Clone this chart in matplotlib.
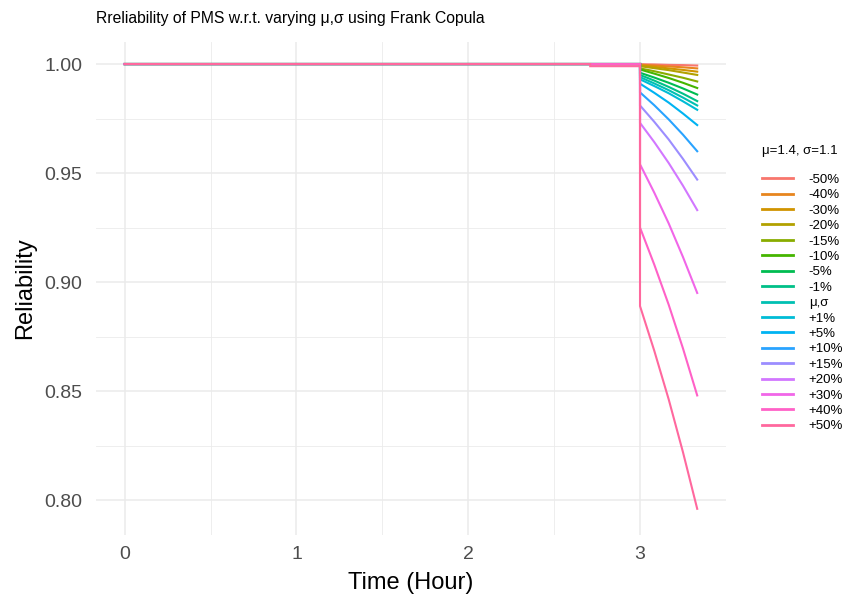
import numpy as np
import matplotlib
matplotlib.use('Agg')
import matplotlib.pyplot as plt
from matplotlib.ticker import MultipleLocator, FormatStrFormatter

plt.rcParams['font.family'] = ['Liberation Sans', 'DejaVu Sans']

# series labels, in drawing order (last one ends up on top)
labels = ['-50%', '-40%', '-30%', '-20%', '-15%', '-10%', '-5%', '-1%', 'μ,σ',
          '+1%', '+5%', '+10%', '+15%', '+20%', '+30%', '+40%', '+50%']

# common time grid (hours); the repeated 3.0 makes the vertical drop
times = [0, 2.71, 2.71, 3.0, 3.0, 3.083, 3.167, 3.25, 3.333]

# reliability on [2.71, 3.0) - only the +50% case dips a little
pre_dip = [1.0] * 16 + [0.999]

# reliability from t=3.0 (after the drop) to t=3.333
after_t3 = [
    [0.9999, 0.9998, 0.9996, 0.9995, 0.9993],
    [0.9997, 0.9993, 0.9989, 0.9985, 0.9980],
    [0.9993, 0.9987, 0.9980, 0.9973, 0.9965],
    [0.9990, 0.9981, 0.9972, 0.9961, 0.9950],
    [0.9980, 0.9967, 0.9952, 0.9937, 0.9920],
    [0.9975, 0.9956, 0.9936, 0.9914, 0.9890],
    [0.9960, 0.9938, 0.9914, 0.9888, 0.9860],
    [0.9950, 0.9924, 0.9895, 0.9864, 0.9830],
    [0.9940, 0.9911, 0.9880, 0.9846, 0.9810],
    [0.9930, 0.9899, 0.9866, 0.9829, 0.9790],
    [0.9910, 0.9868, 0.9823, 0.9773, 0.9720],
    [0.9870, 0.9811, 0.9746, 0.9676, 0.9600],
    [0.9810, 0.9735, 0.9654, 0.9565, 0.9470],
    [0.9730, 0.9642, 0.9546, 0.9442, 0.9330],
    [0.9540, 0.9410, 0.9269, 0.9115, 0.8950],
    [0.9250, 0.9080, 0.8896, 0.8696, 0.8480],
    [0.8890, 0.8685, 0.8462, 0.8220, 0.7960],
]


def hcl_hex(h, c=100.0, l=65.0):
    # ggplot2 style hue colours (polar Luv -> sRGB)
    xn, yn, zn = 95.047, 100.0, 108.883
    un = 4 * xn / (xn + 15 * yn + 3 * zn)
    vn = 9 * yn / (xn + 15 * yn + 3 * zn)
    u_ = c * np.cos(np.radians(h))
    v_ = c * np.sin(np.radians(h))
    Y = yn * ((l + 16) / 116) ** 3
    u = u_ / (13 * l) + un
    v = v_ / (13 * l) + vn
    X = 9 * Y * u / (4 * v)
    Z = -X / 3 - 5 * Y + 3 * Y / v
    X, Y, Z = X / 100, Y / 100, Z / 100
    rgb = [3.240479 * X - 1.537150 * Y - 0.498535 * Z,
           -0.969256 * X + 1.875992 * Y + 0.041556 * Z,
           0.055648 * X - 0.204043 * Y + 1.057311 * Z]
    out = []
    for ch in rgb:
        ch = 12.92 * ch if ch <= 0.0031308 else 1.055 * ch ** (1 / 2.4) - 0.055
        out.append(min(max(ch, 0), 1))
    return tuple(out)


n = len(labels)
hues = np.linspace(15, 375, n + 1)[:n]
colors = [hcl_hex(h) for h in hues]

fig = plt.figure(figsize=(8.5, 6), dpi=100)
ax = fig.add_axes([0.113, 0.108, 0.741, 0.822])

for lab, dip, tail, col in zip(labels, pre_dip, after_t3, colors):
    vals = [1.0, 1.0, dip, dip] + tail
    ax.plot(times, vals, color=col, lw=1.5, label=lab, solid_joinstyle='miter')

ax.set_xlim(-0.1667, 3.5)
ax.set_ylim(0.7839, 1.0101)
ax.xaxis.set_major_locator(MultipleLocator(1))
ax.xaxis.set_minor_locator(MultipleLocator(0.5))
ax.yaxis.set_major_locator(MultipleLocator(0.05))
ax.yaxis.set_minor_locator(MultipleLocator(0.025))
ax.yaxis.set_major_formatter(FormatStrFormatter('%.2f'))
ax.grid(which='major', color='#EBEBEB', lw=1.1)
ax.grid(which='minor', color='#EBEBEB', lw=0.6)
ax.set_axisbelow(True)
for s in ax.spines.values():
    s.set_visible(False)
ax.tick_params(which='both', length=0, labelsize=14, labelcolor='#4D4D4D')
ax.tick_params(axis='y', pad=10)
ax.tick_params(axis='x', pad=8)

ax.set_xlabel('Time (Hour)', fontsize=17, labelpad=6)
ax.set_ylabel('Reliability', fontsize=17, labelpad=6)
ax.set_title('Rreliability of PMS w.r.t. varying μ,σ using Frank Copula',
             fontsize=11.35, loc='left', pad=14)

leg = fig.legend(loc='upper left', bbox_to_anchor=(762 / 850, 1 - 145 / 600),
                 frameon=False, fontsize=9.5, title='μ=1.4, σ=1.1',
                 title_fontsize=9.5, handlelength=2.35, handletextpad=1.2,
                 labelspacing=0.24, alignment='left', borderaxespad=0,
                 borderpad=0)
leg._legend_box.sep = 12
for line in leg.get_lines():
    line.set_linewidth(2)

fig.savefig('out.png', dpi=100)
